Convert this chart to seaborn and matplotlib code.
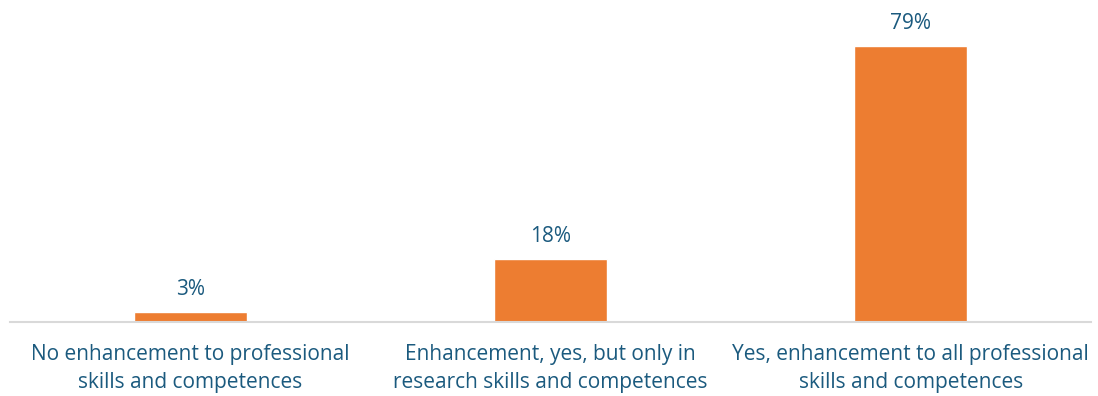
import matplotlib
matplotlib.use("Agg")
import matplotlib.pyplot as plt
import seaborn as sns
import pandas as pd

categories = [
    "No enhancement to professional\nskills and competences",
    "Enhancement, yes, but only in\nresearch skills and competences",
    "Yes, enhancement to all professional\nskills and competences",
]
values = [3, 18, 79]
value_labels = ["3%", "18%", "79%"]

BAR_COLOR = "#ED7D31"
TEXT_COLOR = "#1B5A7E"
AXIS_COLOR = "#D9D9D9"

sns.set_theme(style="white")
plt.rcParams["font.family"] = ["Open Sans", "DejaVu Sans"]

df = pd.DataFrame({"category": categories, "value": values})

fig = plt.figure(figsize=(10.98, 3.96), dpi=100)
ax = fig.add_axes([10 / 1098, 1 - 322 / 396, 1081 / 1098, 322 / 396])

sns.barplot(data=df, x="category", y="value", color=BAR_COLOR, width=0.314,
            saturation=1, ax=ax)

ax.set_xlim(-0.5, 2.5)
ax.set_ylim(0, 92.2)
for bar, lab in zip(ax.patches, value_labels):
    ax.annotate(lab, (bar.get_x() + bar.get_width() / 2, bar.get_height()),
                xytext=(0, 16), textcoords="offset points", ha="center",
                va="center", fontsize=15, color=TEXT_COLOR)

ax.set_xlabel("")
ax.set_ylabel("")
ax.set_yticks([])
ax.tick_params(axis="x", length=0, pad=16, labelsize=15, labelcolor=TEXT_COLOR)
for t in ax.get_xticklabels():
    t.set_linespacing(1.45)
for side in ["top", "right", "left"]:
    ax.spines[side].set_visible(False)
ax.spines["bottom"].set_color(AXIS_COLOR)
ax.spines["bottom"].set_linewidth(1.5)
ax.set_facecolor("none")

fig.savefig("out.png", dpi=100, facecolor="white")
